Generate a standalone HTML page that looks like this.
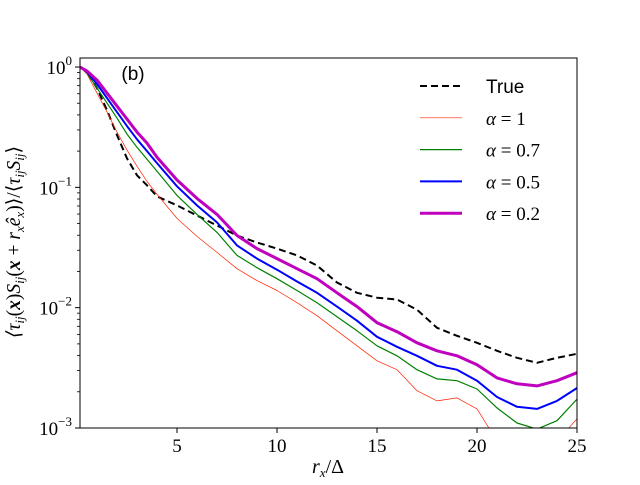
<!DOCTYPE html>
<html><head><meta charset="utf-8"><style>
body{margin:0;background:#fff;}
svg text{font-family:"Liberation Serif","DejaVu Serif",serif;fill:#000;}
</style></head><body>
<svg id="chart" width="640" height="480" viewBox="0 0 640 480" xmlns="http://www.w3.org/2000/svg">
<defs><clipPath id="clip"><rect x="80" y="58" width="497" height="370"/></clipPath></defs>
<g id="series" clip-path="url(#clip)"></g>
<rect x="80" y="58" width="497" height="370" fill="none" stroke="#000" stroke-width="1"/>
<g id="ticks"></g>
<text x="133" y="80" font-size="19" text-anchor="middle" style="font-family:'Liberation Sans',sans-serif">(b)</text>
<text x="328" y="473" font-size="20" text-anchor="middle" font-style="italic">r<tspan font-size="13" dy="4">x</tspan><tspan dy="-4" font-style="normal">/Δ</tspan></text>
<text transform="translate(20,242) rotate(-90)" font-size="19.5" text-anchor="middle" font-style="italic">⟨τ<tspan font-size="13" dy="4">ij</tspan><tspan dy="-4" font-style="normal">(</tspan><tspan font-weight="bold">x</tspan><tspan font-style="normal">)</tspan>S<tspan font-size="13" dy="4">ij</tspan><tspan dy="-4" font-style="normal">(</tspan><tspan font-weight="bold">x</tspan><tspan font-style="normal"> + </tspan>r<tspan font-size="13" dy="4">x</tspan><tspan dy="-4">ê</tspan><tspan font-size="13" dy="4">x</tspan><tspan dy="-4" font-style="normal">)⟩/⟨</tspan>τ<tspan font-size="13" dy="4">ij</tspan><tspan dy="-4">S</tspan><tspan font-size="13" dy="4">ij</tspan><tspan dy="-4" font-style="normal">⟩</tspan></text>
<g id="legend"></g>
</svg>
<script>
const xs = [0.15,0.5,1,1.5,2,2.5,3,3.5,4,5,6,7,8,9,10,11,12,13,14,15,16,17,18,19,20,21,22,23,24,25];
const trueVals = [1,.909,.668,.438,.272,.174,.126,.104,.0841,.0708,.0584,.0482,.0398,.0348,.0310,.0272,.0224,.0162,.0133,.0121,.0117,.00962,.00681,.00584,.00511,.00438,.00383,.00348,.00383,.00414];
const alpha1Vals = [1,.874,.607,.422,.288,.204,.150,.112,.0874,.0552,.0391,.0288,.0211,.0168,.0139,.0110,.00858,.00643,.00482,.00362,.00305,.00204,.00168,.00178,.00144,.00078,.00053,.00064,.00078,.00119];
const alpha07Vals = [1,.891,.668,.501,.376,.277,.215,.171,.136,.0858,.0596,.0422,.0272,.0215,.0174,.0139,.0110,.00841,.00643,.00482,.00398,.00305,.00256,.00247,.00211,.00147,.00110,.00098,.00115,.00174];
const alpha05Vals = [1,.909,.722,.552,.422,.323,.251,.200,.159,.102,.0708,.0511,.0329,.0256,.0207,.0165,.0133,.0102,.00779,.00573,.00473,.00398,.00329,.00305,.00247,.00181,.00150,.00144,.00168,.00215];
const alpha02Vals = [1,.926,.779,.607,.473,.369,.288,.233,.178,.115,.0810,.0596,.0398,.0310,.0256,.0211,.0174,.0133,.0102,.0075,.00631,.00511,.00438,.00398,.00335,.00261,.00233,.00224,.00247,.00288];
const xTicks = [5,10,15,20,25];
const yTicks = [0,-1,-2,-3];
const legendLabels = ["True","α = 1","α = 0.7","α = 0.5","α = 0.2"];

const NS="http://www.w3.org/2000/svg";
const X0=80,X1=577,Y0=58,Y1=428,XMIN=0.15,XMAX=25,LMIN=-3,LMAX=0.075;
const sx=v=>X0+(v-XMIN)/(XMAX-XMIN)*(X1-X0);
const sy=v=>Y1-(Math.log10(v)-LMIN)/(LMAX-LMIN)*(Y1-Y0);
function mk(t,a,p){const e=document.createElementNS(NS,t);for(const k in a)e.setAttribute(k,a[k]);p.appendChild(e);return e;}
const series=[
 {vals:trueVals,color:"#000",w:2,dash:"7,4",name:"series-true"},
 {vals:alpha1Vals,color:"#ff2200",w:0.7,dash:"",name:"series-alpha-1"},
 {vals:alpha07Vals,color:"#008000",w:1.2,dash:"",name:"series-alpha-0-7"},
 {vals:alpha05Vals,color:"#0000ff",w:2,dash:"",name:"series-alpha-0-5"},
 {vals:alpha02Vals,color:"#bf00bf",w:3,dash:"",name:"series-alpha-0-2"}];
const g=document.getElementById('series');
series.forEach(s=>{
 const p=mk('polyline',{points:xs.map((x,i)=>sx(x).toFixed(1)+','+sy(s.vals[i]).toFixed(1)).join(' '),fill:'none',stroke:s.color,'stroke-width':s.w,'stroke-dasharray':s.dash,'stroke-linejoin':'round'},g);
 
 
});
const tg=document.getElementById('ticks');
xTicks.forEach(t=>{
 const l=mk('line',{x1:sx(t),x2:sx(t),y1:Y1,y2:Y1+5,stroke:'#000'},tg);
 
 
 const tx=mk('text',{x:sx(t),y:Y1+24,'font-size':19,'text-anchor':'middle'},tg);
 tx.textContent=t;
 
 
});
yTicks.forEach(e=>{
 const y=sy(Math.pow(10,e));
 const l=mk('line',{x1:X0-5,x2:X0,y1:y,y2:y,stroke:'#000'},tg);
 
 
 const tx=mk('text',{x:X0-8,y:y+7,'font-size':19,'text-anchor':'end'},tg);
 tx.innerHTML='10<tspan font-size="13" dy="-9">'+(e<0?'−'+(-e):e)+'</tspan>';
 
 
 if(e<0){for(let m=2;m<=9;m++){const yy=sy(m*Math.pow(10,e));
  const ml=mk('line',{x1:X0-3,x2:X0,y1:yy,y2:yy,stroke:'#000','stroke-width':0.8},tg);
  
  }}
});
[2,3,4,5,6,7,8,9].forEach(m=>{const yy=sy(m);if(yy>=Y0){
 const ml=mk('line',{x1:X0-3,x2:X0,y1:yy,y2:yy,stroke:'#000','stroke-width':0.8},tg);
 
 }});
const lg=document.getElementById('legend');
legendLabels.forEach((lab,i)=>{
 const y=86+i*31.8,s=series[i];
 const l=mk('line',{x1:420,x2:462,y1:y,y2:y,stroke:s.color,'stroke-width':s.w,'stroke-dasharray':s.dash},lg);
 
 
 const tx=mk('text',{x:486,y:y+7,'font-size':19},lg);
 if(i===0){tx.textContent=lab;tx.setAttribute('style',"font-family:'Liberation Sans',sans-serif");}
 else{const parts=lab.split(' = ');tx.innerHTML='<tspan font-style="italic">'+parts[0]+'</tspan> = '+parts[1];}
 
 
});
</script>
</body></html>
